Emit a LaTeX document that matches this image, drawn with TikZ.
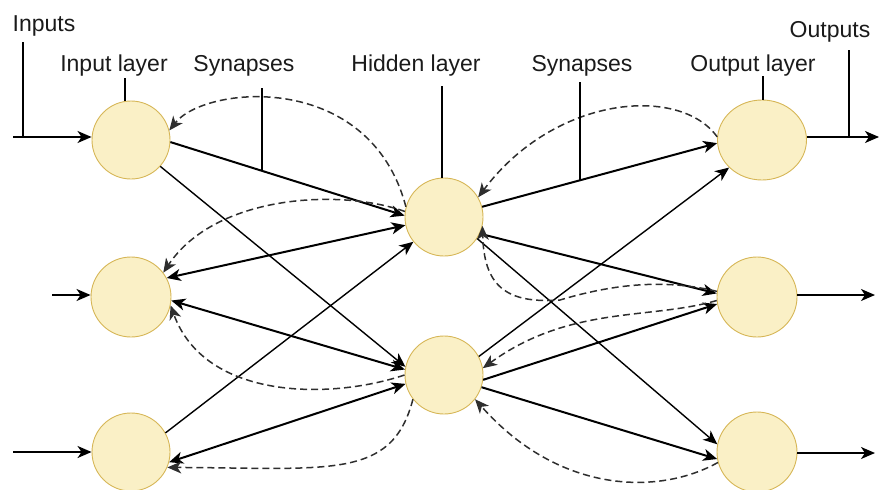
\documentclass[tikz,border=0pt]{standalone}
\usepackage{fontspec}
\setmainfont{Liberation Sans}
\usetikzlibrary{arrows.meta,shapes.geometric}
\definecolor{nfill}{HTML}{FAF0C6}
\definecolor{nstroke}{HTML}{D6B656}
\definecolor{txt}{HTML}{1A1A1A}
\definecolor{dashc}{HTML}{2E2E2E}
\begin{document}
\begin{tikzpicture}[x=1pt,y=-1pt,
  neuron/.style={circle,minimum size=78pt,inner sep=0pt,fill=nfill,draw=nstroke,line width=0.9pt},
  oneuron/.style={ellipse,minimum width=89pt,minimum height=80pt,inner sep=0pt,fill=nfill,draw=nstroke,line width=0.9pt},
  lbl/.style={font=\fontsize{23}{26}\selectfont,text=txt,inner sep=0pt,anchor=base},
  tick/.style={line width=1.5pt,draw=black},
  tip/.tip={Stealth[length=14pt,width=12pt,inset=4pt]},
  fwd/.style={line width=2pt,-tip},
  fwdthin/.style={line width=1.4pt,-tip},
  bidir/.style={line width=2pt,tip-tip},
  ioarrow/.style={line width=1.7pt,-tip},
  back/.style={line width=1.5pt,draw=dashc,dash pattern=on 7pt off 4pt,-tip},
]
\useasboundingbox (0,0) rectangle (879,490);

% neurons
\node[neuron] (I1) at (131,140) {};
\node[neuron,minimum size=80pt] (I2) at (131,297) {};
\node[neuron] (I3) at (131,452) {};
\node[neuron] (H1) at (444,217) {};
\node[neuron] (H2) at (444,375) {};
\node[oneuron] (O1) at (762,140) {};
\node[neuron,minimum size=80pt] (O2) at (757,297) {};
\node[neuron,minimum size=80pt] (O3) at (757,452) {};

% labels
\node[lbl] (tInputs) at (44,31) {Inputs};
\node[lbl] (tInL) at (114,71) {Input layer};
\node[lbl] (tSyn1) at (244,71) {Synapses};
\node[lbl] (tHid) at (416,71) {Hidden layer};
\node[lbl] (tSyn2) at (582,71) {Synapses};
\node[lbl] (tOutL) at (753,71) {Output layer};
\node[lbl] (tOutputs) at (830,37) {Outputs};

% free ends
\coordinate (in1) at (13,137);
\coordinate (in2) at (52,295);
\coordinate (in3) at (13,452);
\coordinate (out1) at (879,137);
\coordinate (out2) at (875,295);
\coordinate (out3) at (875,453);
\coordinate (kInputs) at (23,42);
\coordinate (kInL) at (125,78);
\coordinate (kSyn1) at (262,88);
\coordinate (kHid) at (442,86);
\coordinate (kSyn2) at (580,82);
\coordinate (kOutL) at (763,76);
\coordinate (kOutputs) at (849,50);

% input / output arrows
\draw[ioarrow] (in1) -- (in1 -| I1.west);
\draw[ioarrow] (in2) -- (in2 -| I2.west);
\draw[ioarrow] (in3) -- (I3.west);
\draw[ioarrow] (O1.east |- out1) -- (out1);
\draw[ioarrow] (O2.east |- out2) -- (out2);
\draw[ioarrow] (O3.east |- out3) -- (out3);

% solid synapses, input -> hidden
\draw[fwd] (I1.-3) -- coordinate[pos=0.391] (e1) (H1.178);
\draw[fwdthin] (I1.-42) -- (H2.168);
\draw[bidir] (I2.28) -- (H1.192);
\draw[bidir] (I2.-5) -- (H2.172);
\draw[fwdthin] (I3.29) -- (H1.219);
\draw[bidir] (I3.-15) -- (H2.193);

% solid synapses, hidden -> output
\draw[fwd] (H1.15) -- coordinate[pos=0.417] (e2) (O1.184);
\draw[fwd] (H1.-25) -- (O2.175);
\draw[fwdthin] (H1.-33) -- (O3.169);
\draw[fwdthin] (H2.28) -- (O1.220);
\draw[fwd] (H2.-7) -- (O2.190);
\draw[fwd] (H2.-18) -- (O3.190);

% dashed feedback
\draw[back] (H1.165) .. controls (370,70) and (205,85) .. (I1.14);
\draw[back] (H1.172) .. controls (340,188) and (215,195) .. (I2.37);
\draw[back] (H2.180) .. controls (330,400) and (205,400) .. (I2.-12);
\draw[back] (H2.218) .. controls (392,480) and (330,468) .. (I3.-23);
\draw[back] (O1.176) .. controls (680,85) and (555,95) .. (H1.30);
\draw[back] (O2.172) .. controls (670,280) and (620,282) .. (560,300) .. controls (505,304) and (484,285) .. (H1.-13);
\draw[back] (O2.185) .. controls (650,320) and (570,305) .. (H2.10);
\draw[back] (O3.195) .. controls (660,495) and (560,495) .. (H2.-38);

% label ticks
\draw[tick] (kInputs) -- (kInputs |- in1);
\draw[tick] (kInL) -- (kInL |- I1.north);
\draw[tick] (e1 |- kSyn1) -- (e1);
\draw[tick] (kHid) -- (kHid |- H1.north);
\draw[tick] (e2 |- kSyn2) -- (e2);
\draw[tick] (kOutL) -- (kOutL |- O1.north);
\draw[tick] (kOutputs) -- (kOutputs |- out1);
\end{tikzpicture}
\end{document}
